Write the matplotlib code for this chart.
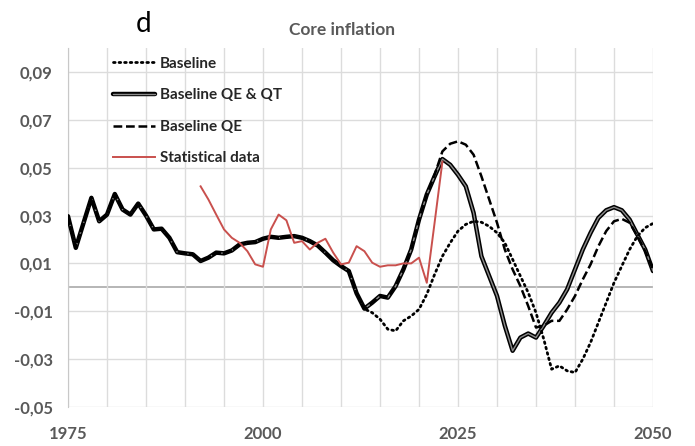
import matplotlib
matplotlib.use('Agg')
import matplotlib.pyplot as plt
import matplotlib.patheffects as pe

# history shared by all model runs, 1975-2012
hist_years = list(range(1975, 2013))
hist_vals = [0.0297, 0.0165, 0.0270, 0.0374, 0.0276, 0.0304, 0.0390, 0.0325, 0.0304, 0.0350,
             0.0300, 0.0242, 0.0245, 0.0207, 0.0147, 0.0142, 0.0138, 0.0110, 0.0124, 0.0145,
             0.0142, 0.0154, 0.0179, 0.0186, 0.0189, 0.0203, 0.0211, 0.0207, 0.0211, 0.0214,
             0.0207, 0.0193, 0.0175, 0.0145, 0.0113, 0.0089, 0.0068, -0.0025]

# scenarios, 2013-2050
scen_years = list(range(2013, 2051))
qe_qt = [-0.0089, -0.0064, -0.0036, -0.0043, 0.0005, 0.0075, 0.0158, 0.0283, 0.0388, 0.0464,
         0.0536, 0.0512, 0.0470, 0.0422, 0.0311, 0.0130, 0.0047, -0.0036, -0.0160, -0.0265,
         -0.0210, -0.0193, -0.0210, -0.0160, -0.0106, -0.0064, -0.0008, 0.0075, 0.0158, 0.0228,
         0.0290, 0.0322, 0.0335, 0.0322, 0.0283, 0.0220, 0.0158, 0.0068]
qe = [-0.0089, -0.0064, -0.0036, -0.0043, 0.0005, 0.0075, 0.0158, 0.0283, 0.0388, 0.0470,
      0.0568, 0.0600, 0.0610, 0.0596, 0.0554, 0.0464, 0.0367, 0.0270, 0.0158, 0.0075,
      0.0005, -0.0078, -0.0168, -0.0160, -0.0140, -0.0140, -0.0092, -0.0036, 0.0033, 0.0096,
      0.0172, 0.0235, 0.0276, 0.0286, 0.0270, 0.0214, 0.0151, 0.0075]
baseline = [-0.0090, -0.0106, -0.0133, -0.0175, -0.0182, -0.0140, -0.0120, -0.0092, -0.0029, 0.0054,
            0.0130, 0.0186, 0.0235, 0.0263, 0.0276, 0.0272, 0.0255, 0.0228, 0.0186, 0.0117,
            0.0047, -0.0022, -0.0106, -0.0217, -0.0342, -0.0328, -0.0349, -0.0356, -0.0300, -0.0230,
            -0.0147, -0.0064, 0.0019, 0.0089, 0.0158, 0.0214, 0.0249, 0.0267]

stat_years = list(range(1992, 2024))
stat_vals = [0.0422, 0.0367, 0.0304, 0.0242, 0.0207, 0.0186, 0.0151, 0.0096, 0.0086, 0.0242,
             0.0304, 0.0280, 0.0186, 0.0193, 0.0158, 0.0186, 0.0203, 0.0145, 0.0096, 0.0103,
             0.0172, 0.0151, 0.0103, 0.0086, 0.0092, 0.0092, 0.0100, 0.0100, 0.0124, 0.0019,
             0.0270, 0.0525]

yticks = [-0.05, -0.03, -0.01, 0.01, 0.03, 0.05, 0.07, 0.09]
xticks = [1975, 2000, 2025, 2050]

years = hist_years + scen_years

fig = plt.figure(figsize=(6.95, 4.46), dpi=100)
ax = fig.add_axes([68 / 695, 39 / 446, 585 / 695, 359 / 446])

ax.plot(years, hist_vals + qe_qt, color='#8c8c8c', lw=1.0, solid_capstyle='round',
        path_effects=[pe.Stroke(linewidth=3.2, foreground='black'), pe.Normal()],
        label='Baseline QE & QT', zorder=3)
ax.plot(years, hist_vals + qe, color='black', lw=1.8, linestyle=(0, (3.5, 1.5)),
        label='Baseline QE', zorder=4)
ax.plot(years, hist_vals + baseline, color='black', lw=2.0, linestyle=(0, (0.6, 1.4)),
        dash_capstyle='round', label='Baseline', zorder=5)
ax.plot(stat_years, stat_vals, color='#c9504d', lw=1.4, label='Statistical data', zorder=6)

ax.set_xlim(1975, 2050)
ax.set_ylim(-0.05, 0.10)
ax.set_yticks(yticks)
ax.set_yticklabels([f'{v:.2f}'.replace('.', ',') for v in yticks])
ax.set_xticks(range(1975, 2051, 5))
ax.set_xticklabels([str(y) if y in xticks else '' for y in range(1975, 2051, 5)])
ax.grid(True, color='#dcdcdc', lw=1.0)
ax.axhline(0, color='#b0b0b0', lw=1.3, zorder=1)
for s in ['top', 'right', 'bottom']:
    ax.spines[s].set_visible(False)
ax.spines['left'].set_color('#c8c8c8')
ax.tick_params(length=0, labelsize=12, labelcolor='#595959')
ax.tick_params(axis='y', pad=11)
ax.tick_params(axis='x', pad=14)
for lbl in ax.get_xticklabels() + ax.get_yticklabels():
    lbl.set_fontweight('bold')
    lbl.set_family('Lato')

handles, labels = ax.get_legend_handles_labels()
order = [2, 0, 1, 3]
leg = ax.legend([handles[i] for i in order], [labels[i] for i in order],
                loc='upper left', bbox_to_anchor=(0.053, 1.014), frameon=False,
                handlelength=2.75, handletextpad=0.35, labelspacing=1.15,
                prop={'family': 'Lato', 'weight': 'bold', 'size': 11})
for t in leg.get_texts():
    t.set_color('#262626')

fig.text(144 / 695, 1 - 24 / 446, 'd', fontsize=20, ha='center', va='center', family='Lato')
fig.text(342 / 695, 1 - 30 / 446, 'Core inflation', fontsize=12.5, ha='center', va='center',
         fontweight='bold', color='#595959', family='Lato')

fig.savefig('out.png', dpi=100)
